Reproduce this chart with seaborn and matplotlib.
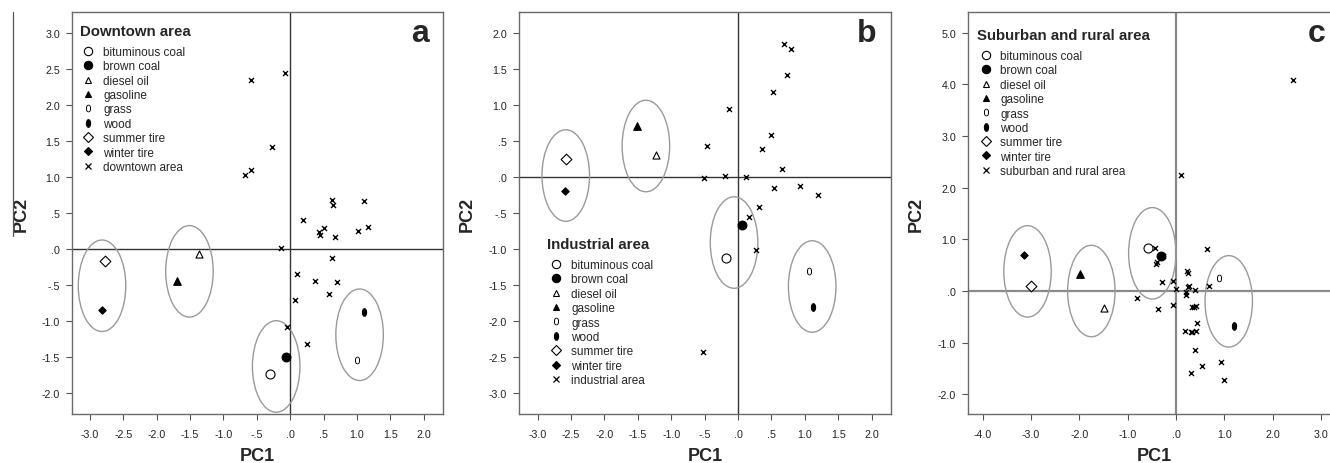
import numpy as np
import pandas as pd
import seaborn as sns
import matplotlib.pyplot as plt
from matplotlib.patches import Ellipse
from matplotlib.lines import Line2D
from matplotlib.markers import MarkerStyle
from matplotlib.path import Path

sources = ["bituminous coal", "brown coal", "diesel oil", "gasoline",
           "grass", "wood", "summer tire", "winter tire"]

# panel a - downtown area
a_src_pc1 = [-0.31, -0.07, -1.36, -1.69, 1.00, 1.11, -2.77, -2.82]
a_src_pc2 = [-1.73, -1.50, -0.07, -0.45, -1.54, -0.87, -0.17, -0.84]
a_pc1 = [-0.58, -0.075, -0.27, -0.68, -0.58, 0.63, 0.64, 1.10, 0.19, 0.51, 0.425, 0.45,
         0.67, 1.01, 1.17, -0.135, 0.63, 0.105, 0.365, 0.695, 0.58, 0.065, -0.045, 0.245]
a_pc2 = [2.35, 2.45, 1.42, 1.03, 1.09, 0.685, 0.615, 0.67, 0.40, 0.29, 0.23, 0.20,
         0.16, 0.245, 0.30, 0.02, -0.125, -0.34, -0.45, -0.46, -0.62, -0.71, -1.08, -1.32]
a_ell_pc1 = [-2.82, -1.51, -0.21, 1.04]
a_ell_pc2 = [-0.51, -0.31, -1.63, -1.19]

# panel b - industrial area
b_src_pc1 = [-0.18, 0.065, -1.23, -1.52, 1.06, 1.12, -2.58, -2.59]
b_src_pc2 = [-1.13, -0.66, 0.30, 0.71, -1.31, -1.81, 0.25, -0.20]
b_pc1 = [0.69, 0.80, 0.73, 0.52, -0.14, 0.49, 0.36, -0.47, 0.66, -0.51, -0.20, 0.115,
         0.54, 0.93, 1.19, 0.31, 0.165, 0.27, -0.52]
b_pc2 = [1.85, 1.78, 1.42, 1.18, 0.95, 0.58, 0.39, 0.435, 0.115, -0.01, 0.02, 0.005,
         -0.15, -0.12, -0.25, -0.41, -0.55, -1.01, -2.43]
b_ell_pc1 = [-2.58, -1.38, -0.06, 1.11]
b_ell_pc2 = [0.02, 0.43, -0.91, -1.52]

# panel c - suburban and rural area
c_src_pc1 = [-0.585, -0.31, -1.48, -1.98, 0.88, 1.20, -3.00, -3.14]
c_src_pc2 = [0.83, 0.67, -0.32, 0.32, 0.245, -0.68, 0.09, 0.70]
c_pc1 = [-0.43, -0.40, -0.42, -0.275, 0.65, 0.22, 0.24, -0.28, -0.055, 0.0, 0.26, 0.25,
         0.21, 0.40, 0.21, 0.68, -0.80, -0.055, -0.365, 0.325, 0.41, 0.38, 0.43, 0.19,
         0.30, 0.34, 0.41, 0.39, 0.93, 0.54, 0.30, 0.99, 2.42, 0.10]
c_pc2 = [0.83, 0.555, 0.52, 0.68, 0.81, 0.38, 0.34, 0.17, 0.19, 0.04, 0.10, 0.07,
         -0.01, 0.02, -0.08, 0.10, -0.14, -0.265, -0.35, -0.30, -0.285, -0.31, -0.62, -0.78,
         -0.80, -0.79, -0.77, -1.135, -1.37, -1.46, -1.59, -1.72, 4.09, 2.25]
c_ell_pc1 = [-3.07, -1.75, -0.49, 1.09]
c_ell_pc2 = [0.38, 0.00, 0.73, -0.20]

sns.set_style("white")
plt.rcParams['font.family'] = ['Liberation Sans', 'DejaVu Sans']

t = np.linspace(0, 2 * np.pi, 40)
wood_marker = MarkerStyle(Path(np.column_stack([0.55 * np.cos(t), np.sin(t)])))

# marker, facecolor, scatter size, legend size, edge width
style = {
    "bituminous coal": ("o", "white", 42, 6, 0.8),
    "brown coal": ("o", "black", 40, 6, 0.8),
    "diesel oil": ("^", "white", 26, 5, 0.8),
    "gasoline": ("^", "black", 30, 5, 0.8),
    "grass": ("$0$", "black", 30, 5.5, 0.0),
    "wood": (wood_marker, "black", 30, 5.5, 0.8),
    "summer tire": ("D", "white", 30, 5.5, 0.8),
    "winter tire": ("D", "black", 14, 4, 0.8),
}


def spss_fmt(v, pos=None):
    s = f"{v:.1f}"
    if s.startswith("-0."):
        s = "-" + s[2:]
    elif s.startswith("0."):
        s = s[1:]
    return s


def draw(ax, src_x, src_y, px, py, ex, ey, ew, eh, site, zero_col, zero_lw):
    ax.axhline(0, color=zero_col, lw=zero_lw, zorder=1)
    ax.axvline(0, color=zero_col, lw=zero_lw, zorder=1)
    for cx, cy in zip(ex, ey):
        ax.add_patch(Ellipse((cx, cy), ew, eh, fill=False, ec="#9a9a9a", lw=1.0, zorder=2))

    pts = pd.DataFrame({"pc1": px, "pc2": py})
    sns.scatterplot(data=pts, x="pc1", y="pc2", marker="x", color="black", s=13,
                    linewidth=1.0, ax=ax, zorder=4)
    src = pd.DataFrame({"pc1": src_x, "pc2": src_y, "source": sources})
    for s in sources:
        m, fc, size, _, lw = style[s]
        sns.scatterplot(data=src[src.source == s], x="pc1", y="pc2", marker=m, s=size,
                        facecolor=fc, edgecolor="black", linewidth=lw, ax=ax, zorder=5)

    handles = []
    for s in sources:
        m, fc, _, ms, lw = style[s]
        handles.append(Line2D([], [], marker=m, ls="none", mfc=fc, mec="black",
                              mew=lw, ms=ms, color="black"))
    handles.append(Line2D([], [], marker="x", ls="none", color="black", ms=4, mew=0.9))
    return handles


fig = plt.figure(figsize=(13.3, 4.64), dpi=100)
bottom, height = 1 - 415 / 464, 402 / 464
ax_a = fig.add_axes([72 / 1330, bottom, 371 / 1330, height])
ax_b = fig.add_axes([519 / 1330, bottom, 372 / 1330, height])
ax_c = fig.add_axes([968 / 1330, bottom, 372 / 1330, height])

panels = [
    (ax_a, a_src_pc1, a_src_pc2, a_pc1, a_pc2, a_ell_pc1, a_ell_pc2, 0.712, 1.27,
     "Downtown area", "downtown area", "a", "#333333", 1.0),
    (ax_b, b_src_pc1, b_src_pc2, b_pc1, b_pc2, b_ell_pc1, b_ell_pc2, 0.712, 1.27,
     "Industrial area", "industrial area", "b", "#333333", 1.0),
    (ax_c, c_src_pc1, c_src_pc2, c_pc1, c_pc2, c_ell_pc1, c_ell_pc2, 0.98, 1.77,
     "Suburban and rural area", "suburban and rural area", "c", "#8a8a8a", 1.6),
]
legend_pos = {"a": (0.014, 0.975), "b": (0.070, 0.445), "c": (0.017, 0.965)}

for ax, sx, sy, px, py, ex, ey, ew, eh, title, site, letter, zc, zlw in panels:
    handles = draw(ax, sx, sy, px, py, ex, ey, ew, eh, site, zc, zlw)
    leg = ax.legend(handles, sources + [site], title=title, loc="upper left",
                    bbox_to_anchor=legend_pos[letter], frameon=False, fontsize=8.5,
                    title_fontproperties={"weight": "bold", "size": 10.8},
                    handlelength=1.5, handletextpad=0.5, labelspacing=0.2,
                    borderpad=0.2, borderaxespad=0)
    leg._legend_box.align = "left"
    leg._legend_box.sep = 5.5
    ax.text(0.962, 0.928, letter, transform=ax.transAxes, ha="right", va="baseline",
            fontsize=23, fontweight="bold")
    ax.set_xlabel("PC1", fontsize=13, fontweight="bold")
    ax.set_ylabel("PC2", fontsize=13, fontweight="bold")
    ax.xaxis.set_label_coords(0.5, -0.083)
    ax.yaxis.set_label_coords(-0.115, 0.5)
    for sp in ax.spines.values():
        sp.set_color("#6a6a6a")
        sp.set_linewidth(1.0)
    ax.tick_params(axis="both", direction="out", length=4, width=0.8, color="#555555",
                   labelsize=7.7, labelcolor="#222222", bottom=True, left=True)
    ax.tick_params(axis="x", pad=7)
    ax.tick_params(axis="y", pad=4.5)

ax_a.set_xlim(-3.27, 2.29)
ax_a.set_ylim(-2.29, 3.29)
ax_a.set_xticks(np.arange(-3.0, 2.01, 0.5))
ax_a.set_yticks(np.arange(-2.0, 3.01, 0.5))

ax_b.set_xlim(-3.28, 2.29)
ax_b.set_ylim(-3.29, 2.29)
ax_b.set_xticks(np.arange(-3.0, 2.01, 0.5))
ax_b.set_yticks(np.arange(-3.0, 2.01, 0.5))

ax_c.set_xlim(-4.30, 3.39)
ax_c.set_ylim(-2.38, 5.40)
ax_c.set_xticks(np.arange(-4.0, 3.01, 1.0))
ax_c.set_yticks(np.arange(-2.0, 5.01, 1.0))

for ax in (ax_a, ax_b, ax_c):
    ax.set_xticklabels([spss_fmt(v) for v in ax.get_xticks()])
    ax.set_yticklabels([spss_fmt(v) for v in ax.get_yticks()])

# thin border stroke left of panel a, as in the source figure
fig.add_artist(Line2D([13 / 1330, 13 / 1330], [1 - 13 / 464, 1 - 237 / 464],
                      color="#555555", lw=0.9, transform=fig.transFigure))

fig.savefig("out.png", dpi=100)
